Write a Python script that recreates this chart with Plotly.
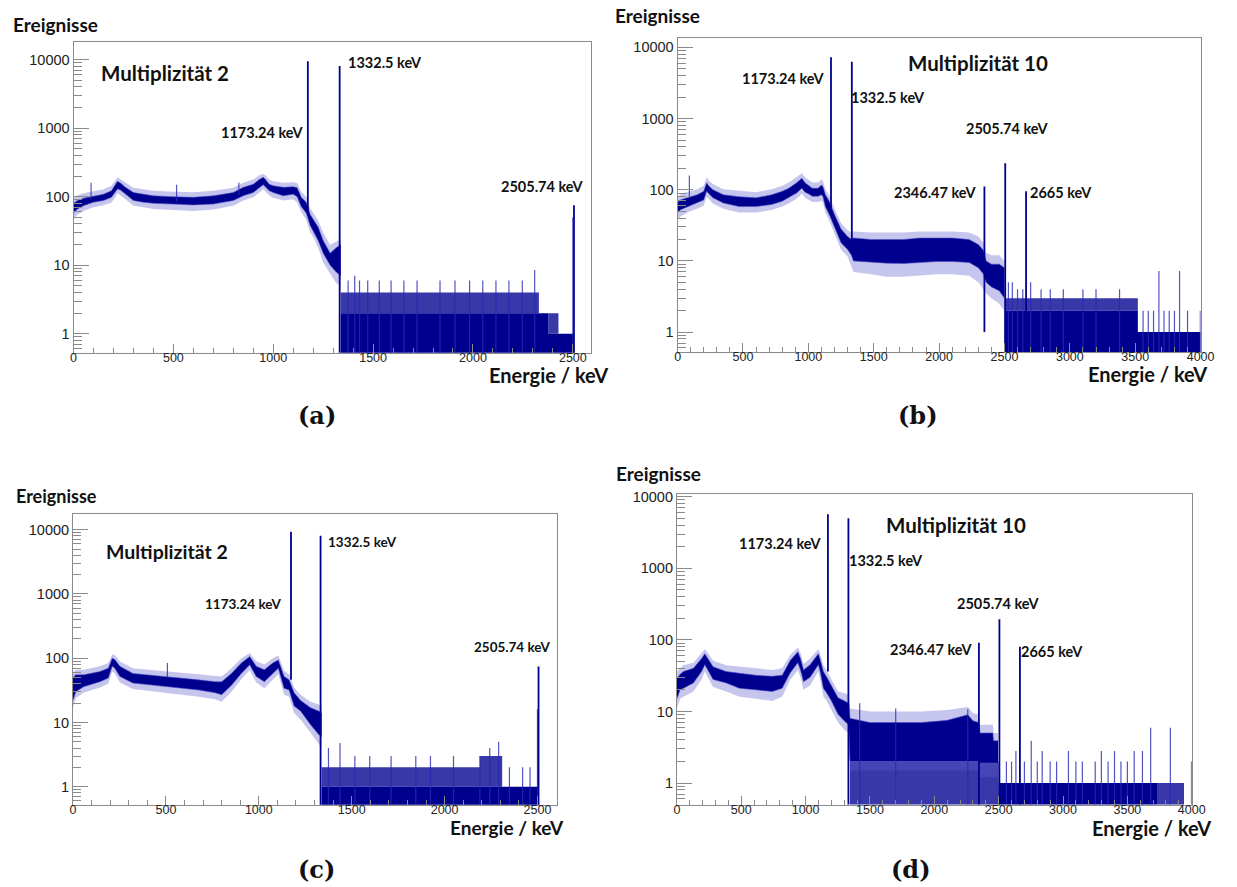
import plotly.graph_objects as go

W, H = 1237, 887
FLOOR = 0.1          # empty bins (0 counts) are pushed below the visible log range

DARK = "#00008f"
EDGE = "rgba(80,80,200,0.55)"
HALO = "rgba(95,95,205,0.36)"
PART = "rgba(0,0,143,0.78)"
SPIKE = "rgba(40,40,180,0.8)"
FRAME = "#8a8a8a"

# ---------------------------------------------------------------- (a) Multiplizität 2
a_cont_E = [0, 20, 50, 100, 150, 190, 210, 220, 235, 260, 300, 350, 400, 500, 600, 700, 800, 850,
            900, 930, 950, 960, 980, 1000, 1050, 1100, 1120, 1140, 1165, 1185, 1200, 1225, 1250,
            1285, 1315, 1338]
a_cont_lo = [58, 66, 74, 83, 88, 98, 118, 130, 125, 110, 88, 83, 80, 78, 76, 78, 88, 103,
             115, 135, 150, 140, 122, 115, 103, 109, 100, 72, 58, 38, 32, 23, 15,
             10, 8, 7]
a_cont_hi = [80, 88, 95, 103, 109, 122, 150, 168, 158, 137, 115, 109, 103, 100, 98, 103, 115, 137,
             152, 178, 192, 180, 152, 145, 137, 140, 135, 98, 83, 55, 47, 36, 23,
             15, 18, 20]
a_cont_min = [48, 55, 62, 70, 75, 82, 100, 112, 105, 92, 74, 70, 66, 64, 62, 65, 74, 88,
              98, 115, 128, 120, 104, 97, 88, 92, 82, 60, 46, 30, 26, 18, 11,
              7.5, 5.5, 5]
a_cont_max = [95, 105, 112, 120, 128, 145, 172, 190, 180, 160, 135, 128, 122, 118, 116, 122, 135, 160,
              178, 205, 215, 205, 178, 168, 160, 162, 158, 118, 100, 68, 58, 45, 30,
              20, 22, 24]
a_low_E = [1338, 2330, 2378, 2428, 2505]
a_low_solid = [2, 2, 1, 1, 1]
a_low_band = [4, 2, 2, 1, 1]
a_peak_E = [1173.24, 1332.5, 2505.74]
a_peak_top = [9500, 8100, 75]
a_peak_base = [60, 0, 0]
a_spike_E = [88, 516, 828, 1375, 1408, 1432, 1473, 1531, 1590, 1654, 1720, 1835,
             1910, 1983, 2049, 2115, 2180, 2247, 2309, 2500]
a_spike_top = [160, 150, 160, 6, 7, 6, 6, 6, 6, 6, 6, 6,
               6, 6, 6, 6, 6, 6, 8.5, 50]
a_spike_base = [90, 85, 105, 0, 0, 0, 0, 0, 0, 0, 0, 0,
                0, 0, 0, 0, 0, 0, 0, 0]

# ---------------------------------------------------------------- (b) Multiplizität 10
b_cont_E = [0, 20, 50, 95, 150, 200, 222, 240, 270, 350, 470, 600, 720, 800, 850, 910, 950, 975,
            1000, 1030, 1075, 1100, 1112, 1130, 1160, 1185, 1200, 1250, 1300, 1330, 1345, 1480,
            1600, 1730, 1850, 1980, 2100, 2230, 2300, 2340, 2360, 2400, 2460, 2500]
b_cont_lo = [48, 52, 55, 60, 65, 72, 95, 88, 77, 65, 58, 58, 62, 69, 77, 90, 105, 92,
             88, 81, 81, 85, 80, 58, 45, 35, 30, 18, 14.5, 12, 10, 9.5,
             9.3, 9.2, 9.5, 9.8, 9.8, 9.5, 8, 6.5, 5, 4.3, 3.8, 3]
b_cont_hi = [66, 72, 75, 80, 85, 95, 125, 112, 100, 85, 80, 77, 85, 95, 105, 125, 145, 125,
             115, 105, 105, 117, 110, 85, 69, 52, 45, 28, 22, 20, 21, 20,
             20, 20, 21, 21, 21, 20, 17, 14, 10, 9, 9, 8]
b_cont_min = [38, 42, 45, 50, 54, 60, 80, 74, 64, 54, 48, 48, 52, 58, 64, 75, 88, 77,
              73, 67, 67, 70, 66, 48, 37, 28, 24, 14.5, 11.5, 8.5, 7, 6.5,
              6, 6, 6.3, 6.5, 6.5, 6.2, 5, 4, 3.5, 3, 2.5, 2]
b_cont_max = [80, 86, 90, 96, 102, 114, 150, 134, 120, 102, 96, 92, 102, 114, 126, 150, 170, 150,
              138, 126, 126, 140, 132, 102, 83, 62, 54, 34, 27, 25, 26, 25,
              25, 25, 26, 26, 26, 25, 22, 18, 13, 12, 12, 10]
b_low_E = [2500, 3520, 4000]
b_low_solid = [2, 1, 1]
b_low_band = [3, 1, 1]
b_peak_E = [1173.24, 1332.5, 2346.47, 2505.74, 2665]
b_peak_top = [7250, 6300, 111, 236, 95]
b_peak_base = [55, 15, 1, 0, 0]
b_spike_E = [90, 2530, 2560, 2600, 2640, 2700, 2780, 2850, 2950, 3100, 3200, 3380,
             3560, 3600, 3640, 3681, 3720, 3760, 3800, 3839, 3900, 3998]
b_spike_top = [159, 5, 5, 4, 4, 5, 4, 4, 4, 4, 4, 4,
               2, 2, 2, 7.2, 2, 2, 2, 7.2, 2, 2]
b_spike_base = [80, 0, 0, 0, 0, 0, 0, 0, 0, 0, 0, 0,
                0, 0, 0, 0, 0, 0, 0, 0, 0, 0]

# ---------------------------------------------------------------- (c) Multiplizität 2
c_cont_E = [0, 15, 57, 145, 190, 211, 225, 252, 322, 410, 500, 590, 676, 765, 800, 853, 906, 951,
            986, 1030, 1075, 1105, 1136, 1163, 1190, 1225, 1278, 1322, 1338]
c_cont_lo = [22, 30, 36, 43, 49, 75, 70, 52, 41, 38.6, 36, 34, 32, 29, 27, 38, 58, 79,
             52, 43, 58, 70, 34, 32, 18, 15, 9.3, 6.5, 6]
c_cont_hi = [50, 55, 55, 62, 70, 100, 95, 75, 58, 55, 52, 49, 46, 43, 43, 58, 84, 106,
             75, 66, 84, 94, 52, 46, 29, 22, 17, 15, 14]
c_cont_min = [17, 24, 29, 35, 40, 62, 58, 42, 33, 31, 29, 27, 25, 23, 21, 30, 47, 65,
              42, 34, 47, 57, 27, 25, 14, 11, 7, 4.5, 4]
c_cont_max = [60, 66, 66, 75, 84, 115, 112, 90, 70, 66, 62, 59, 56, 52, 52, 70, 100, 120,
              90, 80, 100, 110, 63, 56, 35, 27, 21, 19, 18]
c_low_E = [1338, 2190, 2310, 2460, 2505]
c_low_solid = [1, 1, 1, 1, 1]
c_low_band = [2, 3, 1, 1, 1]
c_peak_E = [1173.24, 1332.5, 2505.74]
c_peak_top = [9270, 8050, 74]
c_peak_base = [46, 0, 0]
c_spike_E = [508, 2500, 1375, 1437, 1517, 1597, 1712, 1845, 1924, 2048,
             2190, 2243, 2291, 2349, 2420, 2460]
c_spike_top = [84, 16, 4, 4.8, 3, 3, 3, 3, 3, 3,
               3, 4, 5, 2, 2, 2]
c_spike_base = [50, 0, 0, 0, 0, 0, 0, 0, 0, 0,
                0, 0, 0, 0, 0, 0]

# ---------------------------------------------------------------- (d) Multiplizität 10
d_cont_E = [0, 25, 50, 128, 192, 217, 240, 281, 383, 486, 614, 741, 818, 882, 940, 960, 984, 1035,
            1099, 1115, 1138, 1165, 1201, 1252, 1303, 1335, 1345, 1500, 1700, 1900, 2100, 2260,
            2300, 2345, 2355, 2455, 2460, 2495]
d_cont_lo = [15, 20, 21, 25, 36, 45, 38, 28, 25, 21, 20, 19, 21, 35, 48, 38, 26, 30,
             45, 35, 21, 18, 14, 9.1, 7.3, 6.5, 2, 2, 2, 2, 2, 2,
             2, 2, 1.9, 1.9, 1.9, 1.9]
d_cont_hi = [29, 33, 36, 40, 55, 64, 55, 42, 36, 34, 32, 31, 32, 52, 68, 55, 38, 45,
             64, 52, 36, 30, 23, 15.5, 14, 13, 8, 7, 7, 7, 7.5, 9,
             7.4, 7, 5, 5, 3.9, 3.9]
d_cont_min = [11, 15, 16, 19, 28, 36, 30, 22, 19, 16, 15, 14, 16, 28, 38, 30, 20, 23,
              36, 27, 16, 14, 10.5, 7, 5.5, 5, 1.5, 1.5, 1.5, 1.5, 1.5, 1.5,
              1.5, 1.5, 1.2, 1.2, 1.2, 1.2]
d_cont_max = [36, 40, 44, 48, 66, 74, 66, 51, 44, 42, 40, 38, 40, 62, 78, 66, 46, 55,
              74, 62, 44, 37, 28, 19, 18, 17, 11, 10, 10, 10, 10.5, 11.5,
              9.5, 9, 6.5, 6.5, 5, 5]
d_low_E = [1345, 2500, 3730, 3940, 4000]
d_low_solid = [0, 1, 0, 0, 0]
d_low_band = [2, 1, 1, 0, 0]
d_peak_E = [1173.24, 1332.5, 2346.47, 2505.74, 2665]
d_peak_top = [5660, 4990, 91, 194, 80]
d_peak_base = [36, 0, 0, 0, 0]
d_spike_E = [1420, 1700, 2260, 2560, 2600, 2634, 2700, 2753, 2800, 2838, 2900, 2950, 3042,
             3100, 3150, 3250, 3298, 3350, 3400, 3450, 3500, 3553, 3617, 3681, 3834, 3998]
d_spike_top = [13, 11, 10.7, 2, 2, 2.8, 2, 3.9, 2, 2.8, 2, 2, 2.8,
               2, 2, 2, 2.8, 2, 2.8, 2, 2, 2.8, 2.8, 5.9, 5.9, 2]
d_spike_base = [0, 0, 0, 0, 0, 0, 0, 0, 0, 0, 0, 0, 0,
                0, 0, 0, 0, 0, 0, 0, 0, 0, 0, 0, 0, 0]

# peak labels per panel
a_labels = ["1173.24 keV", "1332.5 keV", "2505.74 keV"]
b_labels = ["1173.24 keV", "1332.5 keV", "2346.47 keV", "2505.74 keV", "2665 keV"]
c_labels = ["1173.24 keV", "1332.5 keV", "2505.74 keV"]
d_labels = ["1173.24 keV", "1332.5 keV", "2346.47 keV", "2505.74 keV", "2665 keV"]


def counts(vals):
    return [v if v > 0 else FLOOR for v in vals]


def vlines(E, top, base):
    xs, ys = [], []
    for e, t, b in zip(E, top, base):
        xs += [e, e, None]
        ys += [b if b > 0 else FLOOR, t, None]
    return xs, ys


panels = [
    dict(cont=(a_cont_E, a_cont_lo, a_cont_hi, a_cont_min, a_cont_max),
         low=(a_low_E, a_low_solid, a_low_band),
         peaks=(a_peak_E, a_peak_top, a_peak_base), spikes=(a_spike_E, a_spike_top, a_spike_base),
         xdom=(71.5, 596), ydom=(36, 349), xmax=2590, yr=(-0.275, 4.261)),
    dict(cont=(b_cont_E, b_cont_lo, b_cont_hi, b_cont_min, b_cont_max),
         low=(b_low_E, b_low_solid, b_low_band),
         peaks=(b_peak_E, b_peak_top, b_peak_base), spikes=(b_spike_E, b_spike_top, b_spike_base),
         xdom=(684, 1214.3), ydom=(32.3, 348.3), xmax=4000, yr=(-0.279, 4.131)),
    dict(cont=(c_cont_E, c_cont_lo, c_cont_hi, c_cont_min, c_cont_max),
         low=(c_low_E, c_low_solid, c_low_band),
         peaks=(c_peak_E, c_peak_top, c_peak_base), spikes=(c_spike_E, c_spike_top, c_spike_base),
         xdom=(71, 561.7), ydom=(511.3, 804.3), xmax=2605, yr=(-0.283, 4.247)),
    dict(cont=(d_cont_E, d_cont_lo, d_cont_hi, d_cont_min, d_cont_max),
         low=(d_low_E, d_low_solid, d_low_band),
         peaks=(d_peak_E, d_peak_top, d_peak_base), spikes=(d_spike_E, d_spike_top, d_spike_base),
         xdom=(683.3, 1205.3), ydom=(491.7, 804), xmax=4000, yr=(-0.301, 4.032)),
]

fig = go.Figure()
layout = dict(width=W, height=H, margin=dict(l=0, r=0, t=0, b=0),
              paper_bgcolor="white", plot_bgcolor="white", showlegend=False)

tickfont_x = dict(family="Liberation Sans, Arial, sans-serif", size=12.5, color="#222")
tickfont_y = dict(family="Liberation Sans, Arial, sans-serif", size=14.5, color="#222")
y_major = [1, 10, 100, 1000, 10000]
y_minor = [m * 10 ** k for k in range(-1, 5) for m in range(2, 10)]

for i, p in enumerate(panels, 1):
    xa = "x" if i == 1 else f"x{i}"
    ya = "y" if i == 1 else f"y{i}"
    common = dict(xaxis=xa, yaxis=ya, hoverinfo="skip", showlegend=False)

    # low-count part of the spectrum: solid up to one level, mostly covered up to the next
    lE, lsolid, lband = p["low"]
    fig.add_trace(go.Scatter(x=lE, y=[FLOOR] * len(lE), mode="lines",
                             line=dict(width=0, shape="hv"), **common))
    fig.add_trace(go.Scatter(x=lE, y=counts(lsolid), mode="lines", fill="tonexty",
                             fillcolor=DARK, line=dict(width=0, shape="hv"), **common))
    fig.add_trace(go.Scatter(x=lE, y=counts(lband), mode="lines", fill="tonexty",
                             fillcolor=PART, line=dict(width=0, shape="hv"), **common))

    # continuum: outer reach of single bins, then the dense core of the noisy bins
    cE, clo, chi, cmin, cmax = p["cont"]
    fig.add_trace(go.Scatter(x=cE, y=cmin, mode="lines", line=dict(width=0), **common))
    fig.add_trace(go.Scatter(x=cE, y=cmax, mode="lines", fill="tonexty", fillcolor=HALO,
                             line=dict(width=0), **common))
    fig.add_trace(go.Scatter(x=cE, y=clo, mode="lines", line=dict(color=EDGE, width=1), **common))
    fig.add_trace(go.Scatter(x=cE, y=chi, mode="lines", fill="tonexty", fillcolor=DARK,
                             line=dict(color=EDGE, width=1), **common))

    # single tall bins, then the photo peaks
    xs, ys = vlines(*p["spikes"])
    fig.add_trace(go.Scatter(x=xs, y=ys, mode="lines", line=dict(color=SPIKE, width=1.2), **common))
    xs, ys = vlines(*p["peaks"])
    fig.add_trace(go.Scatter(x=xs, y=ys, mode="lines", line=dict(color=DARK, width=1.8), **common))

    x0, x1 = p["xdom"]
    y0, y1 = p["ydom"]
    xkey = "xaxis" if i == 1 else f"xaxis{i}"
    ykey = "yaxis" if i == 1 else f"yaxis{i}"
    xmax = p["xmax"]
    layout[xkey] = dict(
        domain=[x0 / W, x1 / W], anchor=ya, range=[0, xmax],
        tickmode="array", tickvals=list(range(0, int(xmax) + 1, 500)),
        ticks="inside", ticklen=9, tickwidth=1, tickcolor=FRAME, ticklabelstandoff=-7,
        minor=dict(tickmode="array", tickvals=[v for v in range(100, int(xmax), 100) if v % 500],
                   ticks="inside", ticklen=5, tickwidth=1, tickcolor=FRAME),
        showline=True, linecolor=FRAME, linewidth=1, mirror=True,
        showgrid=False, zeroline=False, tickfont=tickfont_x,
    )
    layout[ykey] = dict(
        domain=[1 - y1 / H, 1 - y0 / H], anchor=xa, type="log", range=list(p["yr"]),
        tickmode="array", tickvals=y_major, ticktext=[str(v) for v in y_major],
        ticks="inside", ticklen=15, tickwidth=1, tickcolor=FRAME,
        minor=dict(tickmode="array", tickvals=y_minor, ticks="inside", ticklen=8,
                   tickwidth=1, tickcolor=FRAME),
        showline=True, linecolor=FRAME, linewidth=1, mirror=True,
        showgrid=False, zeroline=False, tickfont=tickfont_y,
    )


def text(s, x, y, size, xanchor="left", family="Lato, Calibri, sans-serif"):
    return dict(text=f"<b>{s}</b>", x=x / W, y=1 - y / H, borderpad=0,
                xref="paper", yref="paper", xanchor=xanchor, yanchor="middle",
                showarrow=False, font=dict(family=family, size=size, color="#111"))


serif = "DejaVu Serif, serif"
ann = [
    # (a)
    text("Ereignisse", 9, 19, 19),
    text("Multiplizität 2", 98.5, 67, 20.5),
    text(a_labels[0], 220, 127, 14.5),
    text(a_labels[1], 348.5, 57, 14.5),
    text(a_labels[2], 503.5, 182, 14.5),
    text("Energie / keV", 492, 372, 20),
    text("(a)", 318, 412, 24, "center", serif),
    # (b)
    text("Ereignisse", 620, 10, 19),
    text("Multiplizität 10", 917, 57, 20.5),
    text(b_labels[0], 748.5, 73, 14.5),
    text(b_labels[1], 859, 92, 14.5),
    text(b_labels[2], 902, 188, 14.5),
    text(b_labels[3], 975.5, 123, 14.5),
    text(b_labels[4], 1040, 188, 14.5),
    text("Energie / keV", 1099, 371, 20),
    text("(b)", 928, 412, 24, "center", serif),
    # (c)
    text("Ereignisse", 12.5, 493, 18),
    text("Multiplizität 2", 103, 549, 19.5),
    text(c_labels[0], 204, 602, 13.5),
    text(c_labels[1], 328.5, 540, 13.5),
    text(c_labels[2], 477, 645, 13.5),
    text("Energie / keV", 452, 827, 19),
    text("(c)", 318, 869, 24, "center", serif),
    # (d)
    text("Ereignisse", 621, 471, 19),
    text("Multiplizität 10", 894, 523, 20.5),
    text(d_labels[0], 745, 541, 14.5),
    text(d_labels[1], 857, 558, 14.5),
    text(d_labels[2], 898, 648, 14.5),
    text(d_labels[3], 966.5, 602, 14.5),
    text(d_labels[4], 1031, 650, 14.5),
    text("Energie / keV", 1103, 828, 20),
    text("(d)", 921, 869, 24, "center", serif),
]
layout["annotations"] = ann

fig.update_layout(**layout)
fig.write_html("out.html")
